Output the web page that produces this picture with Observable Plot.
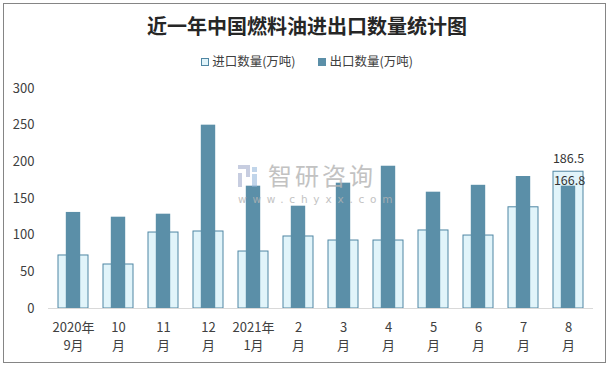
<!DOCTYPE html>
<html>
<head>
<meta charset="utf-8">
<script src="https://cdn.jsdelivr.net/npm/d3@7"></script>
<script src="https://cdn.jsdelivr.net/npm/@observablehq/plot@0.6"></script>
<style>
  html, body { margin: 0; padding: 0; background: #fff; }
  #wrap { position: relative; width: 614px; height: 369px; font-family: "Noto Sans CJK SC", "Microsoft YaHei", sans-serif; }
  #frame { position: absolute; left: 3px; top: 3px; width: 603px; height: 360px; border: 1.5px solid #858585; box-sizing: border-box; pointer-events: none; }
  #title { position: absolute; left: 0; width: 614px; top: 11px; text-align: center; font-size: 20px; font-weight: bold; color: #262626; font-family: "Noto Sans CJK SC", serif; }
  #legend { position: absolute; left: 0; width: 614px; top: 51px; text-align: center; font-size: 12.5px; color: #404040; white-space: nowrap; }
  #legend .item { display: inline-block; margin: 0 10px; }
  #legend .sw { display: inline-block; width: 8px; height: 8px; margin-right: 3px; vertical-align: 0px; box-sizing: border-box; }
  #wm1 { position: absolute; left: 268px; top: 163px; font-size: 24px; line-height: 1; color: #b4b4b4; opacity: 0.8; letter-spacing: 3px; }
  #wm2 { position: absolute; left: 238px; top: 194px; font-size: 10.5px; line-height: 1; color: #b4b4b4; opacity: 0.8; letter-spacing: 5.8px; font-family: "DejaVu Sans", sans-serif; }
  #logo { position: absolute; left: 238px; top: 165px; width: 20px; height: 22px; opacity: 0.55; }
  svg { position: absolute; left: 0; top: 0; }
</style>
</head>
<body>
<div id="wrap">
  <div id="chart"></div>
  <div id="logo"><svg width="20" height="22"><rect x="0" y="0" width="12" height="4" fill="#9aa6c8"/><rect x="8" y="0" width="4" height="12" fill="#9aa6c8"/><rect x="0" y="8" width="4" height="14" fill="#9aa6c8"/><rect x="14" y="2" width="5" height="5" fill="#8fb3d9"/><rect x="14" y="9" width="5" height="13" fill="#8fb3d9"/></svg></div>
  <div id="wm1">智研咨询</div>
  <div id="wm2">www.chyxx.com</div>
  <div id="title">近一年中国燃料油进出口数量统计图</div>
  <div id="legend">
    <span class="item"><span class="sw" style="background:#e1f4fa;border:1px solid #4f86a3"></span>进口数量(万吨)</span>
    <span class="item"><span class="sw" style="background:#5b8fa8"></span>出口数量(万吨)</span>
  </div>
  <div id="frame"></div>
</div>
<script>
const months = ["2020-09","2020-10","2020-11","2020-12","2021-01","2021-02","2021-03","2021-04","2021-05","2021-06","2021-07","2021-08"];
const monthLabels = ["2020年\n9月","10\n月","11\n月","12\n月","2021年\n1月","2\n月","3\n月","4\n月","5\n月","6\n月","7\n月","8\n月"];
const imports = [72.3, 60.0, 103.6, 105.0, 77.7, 98.2, 92.7, 92.7, 106.4, 99.5, 138.0, 186.5];
const exports = [131.0, 124.5, 128.6, 250.0, 166.8, 139.5, 170.9, 194.0, 158.6, 168.0, 180.0, 166.8];
const yTicks = [0, 50, 100, 150, 200, 250, 300];

const data = months.map((m, i) => ({month: m, label: monthLabels[i], imp: imports[i], exp: exports[i]}));
const labelOf = new Map(data.map(d => [d.month, d.label]));
const last = data.slice(-1);

const chart = Plot.plot({
  width: 614,
  height: 369,
  marginLeft: 48,
  marginRight: 21,
  marginTop: 88,
  marginBottom: 61,
  style: {fontFamily: "'Noto Sans CJK SC', sans-serif", background: "transparent"},
  x: {type: "band", domain: months, paddingInner: 0.324, paddingOuter: 0.162},
  y: {domain: [0, 300]},
  marks: [
    Plot.barY(data, {x: "month", y: "imp", fill: "#e1f4fa", stroke: "#4f86a3", strokeWidth: 1}),
    Plot.barY(data, {x: "month", y: "exp", fill: "#5b8fa8", insetLeft: 7.8, insetRight: 7.8}),
    Plot.ruleY([0], {stroke: "#d9d9d9", strokeWidth: 1}),
    Plot.axisY({ticks: yTicks, tickSize: 0, tickPadding: 14, fontSize: 13, color: "#404040", label: null}),
    Plot.axisX({tickSize: 0, tickPadding: 10, fontSize: 13, lineHeight: 1.42, color: "#404040", label: null, tickFormat: d => labelOf.get(d)}),
    Plot.text(last, {x: "month", y: "imp", text: d => d.imp.toFixed(1), dy: -9, lineAnchor: "bottom", fontSize: 12.5, fill: "#333"}),
    Plot.text(last, {x: "month", y: "exp", text: d => d.exp.toFixed(1), dy: -1, dx: 1, lineAnchor: "bottom", fontSize: 12.5, fill: "#333"})
  ]
});
document.getElementById("chart").appendChild(chart);
</script>
</body>
</html>
